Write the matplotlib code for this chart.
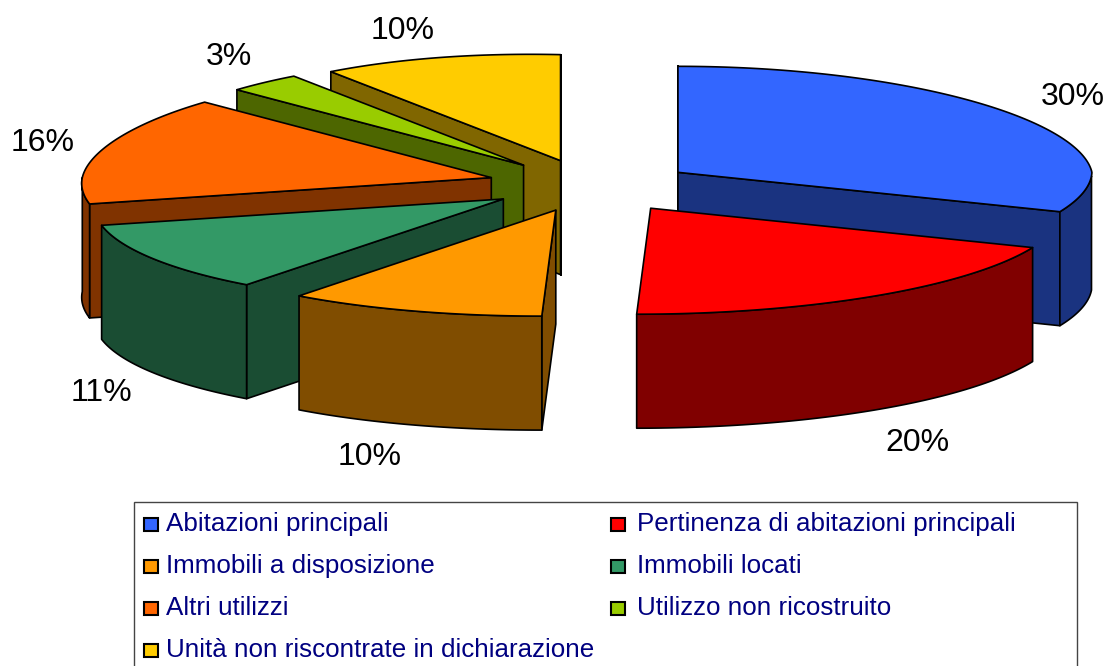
import numpy as np
import matplotlib
matplotlib.use("Agg")
import matplotlib.pyplot as plt
from matplotlib.patches import Polygon, Rectangle

# ---- data ----
categories = ["Abitazioni principali", "Pertinenza di abitazioni principali",
              "Immobili a disposizione", "Immobili locati", "Altri utilizzi",
              "Utilizzo non ricostruito", "Unità non riscontrate in dichiarazione"]
shares = [30, 20, 10, 11, 16, 3, 10]
top_colors = ["#3366FF", "#FF0000", "#FF9900", "#339966", "#FF6600", "#99CC00", "#FFCC00"]
side_colors = ["#1A3380", "#800000", "#804D00", "#1A4D33", "#803300", "#4D6600", "#806600"]

# ---- layout (pixels) ----
W, H = 1108, 666
CX, CY = 593, 186
EXPLODE_X, EXPLODE_Y = 105, 26
DEPTH = 114
label_pos = [(1073, 97), (917, 443), (370, 457), (101, 393), (43, 143), (229, 57), (403, 31)]
draw_order = [0, 1, 6, 5, 4, 3, 2]

plt.rcParams["font.family"] = ["Liberation Sans", "DejaVu Sans"]
fig = plt.figure(figsize=(W / 100, H / 100), dpi=100)
ax = fig.add_axes([0, 0, 1, 1])
ax.set_xlim(0, W)
ax.set_ylim(H, 0)
ax.axis("off")


def rim(theta):
    """Offset of a rim point from the slice apex (theta clockwise from 12 o'clock, degrees)."""
    theta = np.atleast_1d(theta).astype(float)
    warp = np.where(theta < 180, 4 * np.sin(np.radians(theta)), 0.0)
    t = np.radians(theta + warp)
    near = -np.cos(t)
    a = 414 + np.where(near > 0, 8, 25) * near - np.where(theta > 180, 5 * np.sin(np.radians(theta - 180)), 0.0)
    stretch = 1 + np.where(theta > 270, 0.04 * np.sin(np.radians(2 * (theta - 270))), 0.0)
    return np.column_stack([a * np.sin(t) - 14 * np.maximum(near, 0), 106 * near * stretch])


def poly(pts, fc, z):
    ax.add_patch(Polygon(pts, closed=True, fc=fc, ec="black", lw=1.2, joinstyle="round", zorder=z))


edges = np.concatenate([[0], np.cumsum(shares)]) / np.sum(shares) * 360.0
down = np.array([0, DEPTH])

for rank, i in enumerate(draw_order):
    t0, t1 = edges[i], edges[i + 1]
    mid = np.radians((t0 + t1) / 2)
    apex = np.array([CX + EXPLODE_X * np.sin(mid) - 5 * max(-np.cos(mid), 0),
                     CY - EXPLODE_Y * np.cos(mid) + 2 * np.sin(mid)])
    z = rank * 3 + 1
    mid_pt = apex + rim((t0 + t1) / 2)[0]

    # radial walls that face the viewer
    for th in (t0, t1):
        p = apex + rim(th)[0]
        d = p - apex
        m = mid_pt - apex
        side = d[0] * m[1] - d[1] * m[0]
        if side * d[0] < 0 or abs(d[0]) < 1e-6:
            poly([apex, p, p + down, apex + down], side_colors[i], z)

    # outer rim on the near half
    lo, hi = max(t0, 88), min(t1, 270)
    if hi > lo:
        th = np.linspace(lo, hi, 80)
        arc = apex + rim(th)
        poly(np.vstack([arc, (arc + down)[::-1]]), side_colors[i], z + 1)

    # top face
    th = np.linspace(t0, t1, 120)
    poly(np.vstack([apex, apex + rim(th)]), top_colors[i], z + 2)

for share, (x, y) in zip(shares, label_pos):
    ax.text(x, y, f"{share}%", ha="center", va="center", fontsize=23, color="black", zorder=100)

# ---- legend ----
ax.add_patch(Rectangle((133.5, 502), 943, 175, fc="white", ec="#444444", lw=1.0, zorder=90))
rows_base = [531, 573, 615, 657]
swatch_x = [144, 611]
text_x = [166, 637]
for k, (name, col) in enumerate(zip(categories, top_colors)):
    c = k % 2
    y = rows_base[k // 2]
    ax.add_patch(Rectangle((swatch_x[c], y - 13), 13.5, 13, fc=col, ec="black", lw=1.5, zorder=91))
    ax.text(text_x[c], y, name, ha="left", va="baseline", fontsize=18.7, color="#000080", zorder=91)

fig.savefig("out.png", dpi=100)
